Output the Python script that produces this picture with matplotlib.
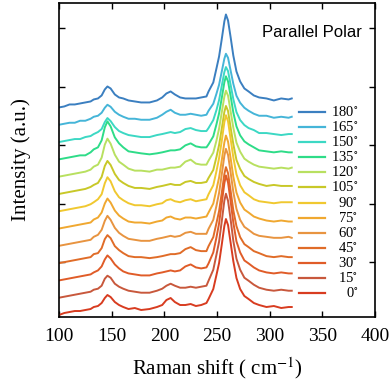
import matplotlib.pyplot as plt
from matplotlib.lines import Line2D

plt.rcParams['font.family'] = 'Liberation Serif'
plt.rcParams['mathtext.fontset'] = 'stix'

# Raman shift grid (cm^-1)
shift = [100, 105, 110, 115, 120, 125, 130, 133, 137, 140.5, 143.5, 146, 149, 153, 157, 161,
         166, 172, 178, 186, 193, 198, 202, 206, 210, 215, 220, 225, 230, 235, 240, 242,
         246.5, 249.5, 252, 254.5, 257, 258.5, 260.5, 263, 265.5, 268.5, 272, 276, 280, 285, 290, 297,
         304, 311, 318, 321]

# intensity (a.u.) of each polarisation angle, before stacking
i_0 = [0, 2, 3, 4, 4, 5, 6, 8, 9, 12, 17, 20, 18, 13, 10, 8, 6, 7, 5, 6, 8, 10, 15, 17, 13, 10,
       10, 11, 9, 10, 12, 16, 26, 40, 52, 70, 89, 96, 90, 72, 54, 37, 26, 19, 16, 12, 10, 8, 9, 7, 8, 8]
i_15 = [0, 1, 2, 3, 4, 5, 6, 8, 9, 12, 19, 22, 20, 14, 11, 9, 7, 6, 5, 5, 7, 9, 12, 14, 12, 10,
        10, 11, 10, 11, 12, 17, 28, 43, 56, 76, 97, 104, 97, 78, 57, 39, 28, 20, 17, 13, 10, 8, 7, 8, 7, 7]
i_30 = [0, 1, 2, 3, 4, 5, 6, 8, 10, 14, 21, 25, 22, 16, 12, 9, 7, 6, 5, 5, 7, 8, 9, 10, 9, 10,
        14, 16, 13, 12, 13, 17, 28, 43, 57, 77, 97, 105, 98, 79, 58, 39, 28, 20, 17, 13, 10, 8, 7, 8, 7, 7]
i_45 = [0, 1, 2, 3, 4, 5, 6, 9, 10, 15, 24, 28, 25, 17, 13, 10, 7, 6, 6, 5, 6, 7, 8, 9, 9, 10,
        14, 16, 13, 12, 12, 17, 26, 40, 52, 70, 89, 96, 90, 72, 53, 37, 26, 19, 16, 12, 10, 7, 6, 7, 6, 6]
i_60 = [0, 1, 2, 3, 4, 5, 6, 9, 11, 16, 25, 30, 26, 18, 13, 10, 7, 6, 5, 5, 7, 8, 9, 10, 9, 10,
        13, 14, 12, 12, 12, 17, 26, 40, 53, 71, 90, 97, 91, 73, 54, 37, 26, 19, 16, 12, 10, 9, 8, 8, 9, 8]
i_75 = [0, 1, 2, 3, 4, 5, 6, 9, 11, 16, 25, 30, 26, 18, 13, 10, 7, 6, 6, 5, 7, 8, 11, 12, 10, 9,
        11, 11, 10, 11, 12, 16, 25, 39, 51, 68, 86, 93, 87, 70, 52, 36, 26, 19, 16, 12, 10, 8, 7, 8, 7, 7]
i_90 = [0, 1, 2, 3, 4, 5, 7, 9, 12, 17, 28, 34, 30, 20, 14, 11, 8, 6, 6, 5, 7, 8, 11, 12, 10, 9,
        11, 12, 10, 11, 12, 17, 26, 40, 53, 70, 89, 96, 90, 72, 54, 37, 26, 19, 16, 12, 10, 9, 8, 9, 9, 9]
i_105 = [0, 1, 2, 3, 4, 5, 7, 9, 11, 17, 28, 33, 29, 20, 14, 11, 8, 6, 6, 5, 7, 8, 9, 10, 9, 9,
         12, 13, 11, 11, 12, 16, 24, 37, 49, 65, 82, 88, 83, 66, 50, 34, 25, 18, 15, 12, 10, 8, 9, 8, 8, 8]
i_120 = [0, 1, 2, 3, 4, 5, 7, 10, 12, 19, 32, 38, 33, 22, 15, 12, 8, 6, 6, 5, 7, 7, 8, 9, 9, 10,
         15, 17, 13, 12, 12, 16, 24, 36, 48, 64, 80, 86, 81, 65, 49, 34, 25, 18, 15, 12, 10, 9, 8, 9, 8, 9]
i_135 = [0, 1, 2, 3, 4, 4, 7, 10, 12, 19, 32, 38, 33, 22, 16, 12, 8, 7, 6, 5, 6, 7, 8, 9, 9, 10,
         14, 16, 13, 12, 12, 15, 23, 35, 46, 61, 77, 83, 78, 63, 47, 33, 24, 18, 15, 12, 9, 8, 7, 8, 7, 7]
i_150 = [0, 1, 2, 3, 3, 5, 6, 8, 10, 13, 20, 24, 21, 15, 11, 9, 7, 6, 5, 5, 7, 8, 9, 10, 9, 10,
         13, 14, 12, 11, 11, 14, 22, 32, 42, 56, 70, 75, 71, 57, 43, 30, 22, 17, 14, 12, 9, 9, 8, 7, 8, 8]
i_165 = [0, 1, 2, 2, 4, 4, 6, 8, 9, 12, 17, 20, 18, 13, 10, 8, 6, 6, 5, 5, 7, 10, 13, 15, 12, 10,
         10, 11, 10, 9, 10, 14, 21, 31, 40, 53, 66, 71, 67, 54, 41, 29, 22, 17, 14, 11, 9, 9, 7, 8, 7, 8]
i_180 = [0, 1, 3, 3, 4, 5, 6, 8, 9, 12, 18, 21, 19, 13, 10, 9, 7, 6, 5, 5, 7, 10, 14, 16, 13, 10,
         9, 9, 9, 10, 11, 16, 25, 39, 51, 68, 86, 93, 87, 70, 52, 36, 26, 19, 16, 12, 10, 9, 7, 9, 8, 9]

angles = [0, 15, 30, 45, 60, 75, 90, 105, 120, 135, 150, 165, 180]
spectra = [i_0, i_15, i_30, i_45, i_60, i_75, i_90, i_105, i_120, i_135, i_150, i_165, i_180]
colors = ['#d83c20', '#c8583c', '#e05c28', '#e06c28', '#e89440', '#f0a830', '#f0c830',
          '#c8c828', '#b8e060', '#2edc88', '#3cd8c4', '#45b5d8', '#3b7fc0']

step = 17.3  # vertical stacking offset

fig = plt.figure(figsize=(3.92, 3.85), dpi=100)
ax = fig.add_axes([0.1505, 0.1766, 0.806, 0.8154])

# draw 180 first so the red curves end up on top
for k in range(len(angles) - 1, -1, -1):
    ys = [v + 2 + k * step for v in spectra[k]]
    ax.plot(shift, ys, color=colors[k], lw=1.4)

# legend drawn by hand so the labels can be right aligned
for k in range(len(angles)):
    yf = (317 - (293 - k * 15.08)) / 314
    ax.add_line(Line2D([0.759, 0.842], [yf, yf], transform=ax.transAxes,
                       color=colors[k], lw=1.6))
    ax.text(0.947, yf, f'{angles[k]}$^{{\\circ}}$', transform=ax.transAxes,
            ha='right', va='center', fontsize=10.5)

ax.text(0.958, 0.905, 'Parallel Polar', transform=ax.transAxes, ha='right', va='center',
        fontsize=12, family='Liberation Sans')

ax.set_xlim(100, 400)
ax.set_ylim(0, 314)
ax.set_xticks([100, 150, 200, 250, 300, 350, 400])
ax.set_yticks([55, 113.5, 172, 230.5, 289])
ax.set_yticklabels([])
ax.tick_params(direction='in', top=True, right=True, length=4, width=1, labelsize=14, pad=8)
for s in ax.spines.values():
    s.set_linewidth(1.2)
ax.set_xlabel('Raman shift ( cm$^{-1}$)', fontsize=15, labelpad=7)
ax.set_ylabel('Intensity (a.u.)', fontsize=15, labelpad=12)

fig.savefig('out.png', dpi=100)
